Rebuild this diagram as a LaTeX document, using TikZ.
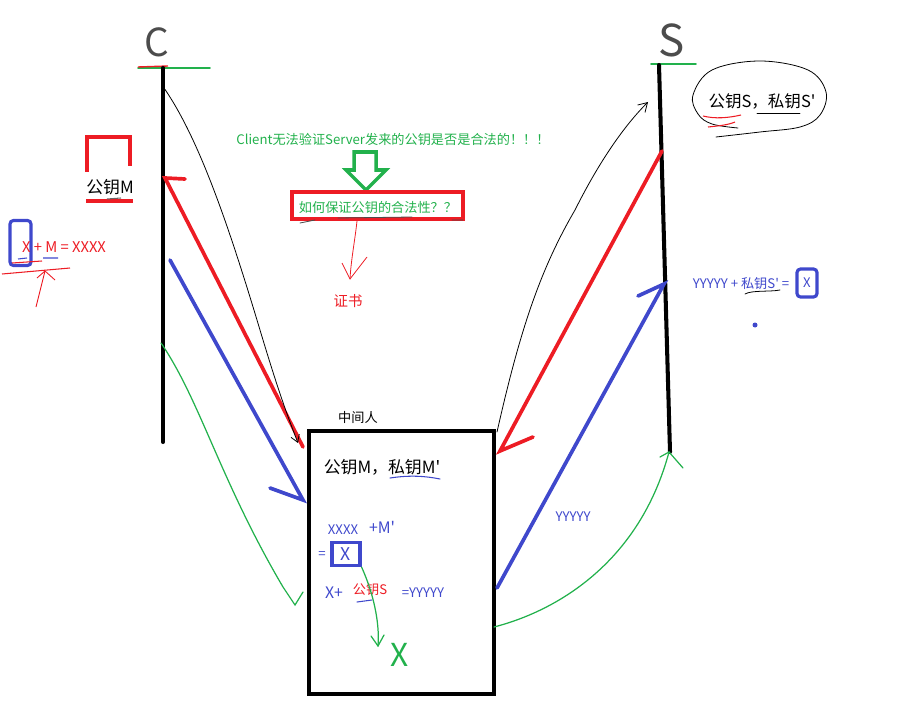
\documentclass[tikz,border=0pt]{standalone}
\usepackage{fontspec}
\setmainfont{Noto Sans CJK SC}[Ligatures=TeXOff]
\usetikzlibrary{arrows.meta}
\definecolor{pgreen}{RGB}{34,177,76}
\definecolor{pred}{RGB}{237,28,36}
\definecolor{pblue}{RGB}{63,72,204}
\begin{document}
\begin{tikzpicture}[x=.02cm,y=-.02cm,
                    axis/.style={line width=2.3pt,line cap=round},
                    redpen/.style={line width=2.1pt,draw=pred,line cap=round},
                    bluepen/.style={line width=2.1pt,draw=pblue,line cap=round},
                    pencil/.style={line width=.45pt,line cap=round},
                    greenpen/.style={line width=.7pt,draw=pgreen,line cap=round},
                    txt/.style={inner sep=0pt,font=\fontsize{7.5}{9}\selectfont},
                    big/.style={inner sep=0pt,font=\fontsize{9.6}{11}\selectfont}]
 \useasboundingbox (0,0) rectangle (911,702);
 % the two sides
 \node[inner sep=0pt,text=black!70,font=\fontsize{22}{22}\selectfont] (cname) at (157,42) {C};
 \node[inner sep=0pt,text=black!70,font=\fontsize{25}{25}\selectfont] (sname) at (672,40) {S};
 \coordinate (ctop) at (163,68);
 \coordinate (cbot) at (163,442);
 \coordinate (stop) at (659,65);
 \coordinate (sbot) at (670,452);
 \draw[greenpen,line width=1pt] (138,68) -- (210,68);
 \draw[pred,line width=.8pt] (138,67) -- (168,66);
 \draw[greenpen,line width=1pt] (651,64) -- (696,64);
 \draw[axis] (ctop) -- (cbot);
 \draw[axis] (stop) -- (sbot);
 % man in the middle
 \node[draw,line width=2.3pt,minimum width=3.7cm,minimum height=5.25cm,inner sep=0pt] (mitm) at (401.5,562.5) {};
 \node[txt] (mitmname) at (358,417) {中间人};
 \node[big] (mkeys) at (382,467) {公钥M，私钥M'};
 \draw[pblue,pencil,line width=.6pt] (390,478) .. controls (410,475) and (425,476) .. (440,479);
 \node[txt,text=pblue] (xxxx) at (343,530) {XXXX};
 \node[txt,text=pblue,font=\itshape\fontsize{9}{9}\selectfont] (plusm) at (382,527) {+M'};
 \node[txt,text=pblue] (eq1) at (322,555) {=};
 \node[draw=pblue,line width=1.8pt,minimum width=.56cm,minimum height=.46cm,inner sep=0pt,text=pblue,font=\fontsize{10}{10}\selectfont] (xbox) at (346,554) {X};
 \node[txt,text=pblue,font=\fontsize{9}{9}\selectfont] (xplus) at (334,593) {X+};
 \node[txt,text=pred] (spub) at (370,590) {公钥S};
 \draw[pblue,pencil,line width=.6pt] (357,602) -- (372,600);
 \node[txt,text=pblue] (yyyy) at (423,593) {=YYYYY};
 \node[inner sep=0pt,text=pgreen,font=\fontsize{18}{18}\selectfont] (xgot) at (400,655) {X};
 \draw[greenpen] (xbox.south east) .. controls (372,590) and (380,620) .. (378,646) coordinate (xtip);
 \draw[greenpen] (371,636) -- (xtip) -- (384,635);
 % C side
 \draw[pred,line width=1.8pt] (87,172) -- (87,137) -- (130,137) -- (130,166);
 \node[big] (mpub) at (110,187) {公钥M};
 \draw[pred,line width=1.8pt] (86,201) -- (133,201);
 \draw[black!60,line width=.6pt] (107,199) -- (121,198);
 \node[draw=pblue,line width=1.8pt,rounded corners=2pt,minimum width=.42cm,minimum height=.9cm,inner sep=0pt] (xmark) at (20.5,243) {};
 \node[txt,text=pred,font=\fontsize{8.4}{9}\selectfont] (xsum) at (64,247) {X + M = XXXX};
 \draw[pblue,line width=.6pt] (18,259) -- (27,258) (43,258) -- (58,258);
 \draw[pred,line width=.6pt] (2,274) -- (70,268);
 \draw[pred,line width=.6pt] (12,263) -- (42,261);
 \coordinate (xarr) at (45,271);
 \draw[pred,line width=.5pt] (36,307) -- (xarr);
 \draw[pred,line width=.5pt] (37,278) -- (xarr) -- (55,280);
 % S side
 \node[big,font=\fontsize{9.4}{11}\selectfont] (skeys) at (762,101) {公钥S，私钥S'};
 \draw[pencil] plot[smooth,tension=.6] coordinates {(716,137) (760,132) (800,127) (820,115) (826,92) (808,70) (760,61) (712,70) (693,95) (698,114) (712,124) (738,128)};
 \draw[pred,line width=.6pt] (703,116) .. controls (715,119) and (728,118) .. (741,115);
 \draw[pred,line width=.6pt] (708,127) .. controls (718,126) and (728,125) .. (735,122);
 \draw[pencil] (757,113) -- (800,113);
 \node[txt,text=pblue] (ysum) at (741,284) {YYYYY + 私钥S' =};
 \draw[pencil] (745,294) .. controls (752,290) and (770,292) .. (780,290);
 \node[draw=pblue,line width=1.8pt,rounded corners=2pt,minimum width=.4cm,minimum height=.56cm,inner sep=0pt,text=pblue,txt] (xres) at (807,283) {X};
 \fill[pblue] (755,325) circle (2.5);
 \node[txt,text=pblue] (ytrans) at (573,517) {YYYYY};
 % the question
 \node[txt,text=pgreen] (question) at (393,139) {Client无法验证Server发来的公钥是否是合法的！！！};
 \draw[pgreen,line width=2pt,line join=miter] (354,152) -- (376,152) -- (376,170) -- (386,170) -- (366,190) -- (346,170) -- (354,170) -- cycle;
 \node[draw=pred,line width=2.2pt,minimum width=3.42cm,minimum height=.54cm,inner sep=0pt] (howbox) at (377.5,205.5) {};
 \node[txt,text=pgreen] (how) at (378,207) {如何保证公钥的合法性？？};
 \draw[pencil,black!70] (300,223) -- (315,220) (338,218) -- (412,217) (452,220) -- (463,220);
 \node[txt,text=pred,font=\fontsize{8.2}{9}\selectfont] (cert) at (348,301) {证书};
 \coordinate (certtip) at (350,279);
 \draw[pred,line width=.45pt] (357,221) .. controls (355,240) and (351,260) .. (certtip);
 \draw[pred,line width=.45pt] (342,263) -- (certtip) -- (367,257);
 % messages
 \coordinate (crd) at (165,178);
 \coordinate (mru) at (303,447);
 \draw[redpen] (mru) -- (crd) -- (185,179);
 \coordinate (cbl) at (170,260);
 \coordinate (mbl) at (303,500);
 \draw[bluepen] (cbl) -- (mbl) -- (270,488);
 \coordinate (srd) at (662,151);
 \coordinate (mrd) at (500,451);
 \draw[redpen] (srd) -- (mrd) -- (533,437);
 \coordinate (mbu) at (497,588);
 \coordinate (sbu) at (664,284);
 \draw[bluepen] (mbu) -- (sbu) -- (638,296);
 % pencil traces
 \draw[pencil,-{Straight Barb[length=4pt,width=5pt]}] (164,88) .. controls (200,140) and (230,230) .. (260,330) .. controls (275,380) and (285,410) .. (298,443);
 \draw[pencil,-{Straight Barb[length=5pt,width=6pt]}] (497,432) .. controls (520,330) and (540,270) .. (575,210) .. controls (600,160) and (625,125) .. (648,102);
 % green traces
 \coordinate (cg) at (161,343);
 \coordinate (mg) at (295,605);
 \draw[greenpen] (cg) .. controls (200,400) and (220,480) .. (283,587) -- (mg) -- (303,592);
 \coordinate (mgr) at (494,627);
 \coordinate (sg) at (669,452);
 \draw[greenpen] (mgr) .. controls (560,610) and (640,560) .. (sg);
 \draw[greenpen] (660,457) -- (sg) -- (683,468);
\end{tikzpicture}
\end{document}
